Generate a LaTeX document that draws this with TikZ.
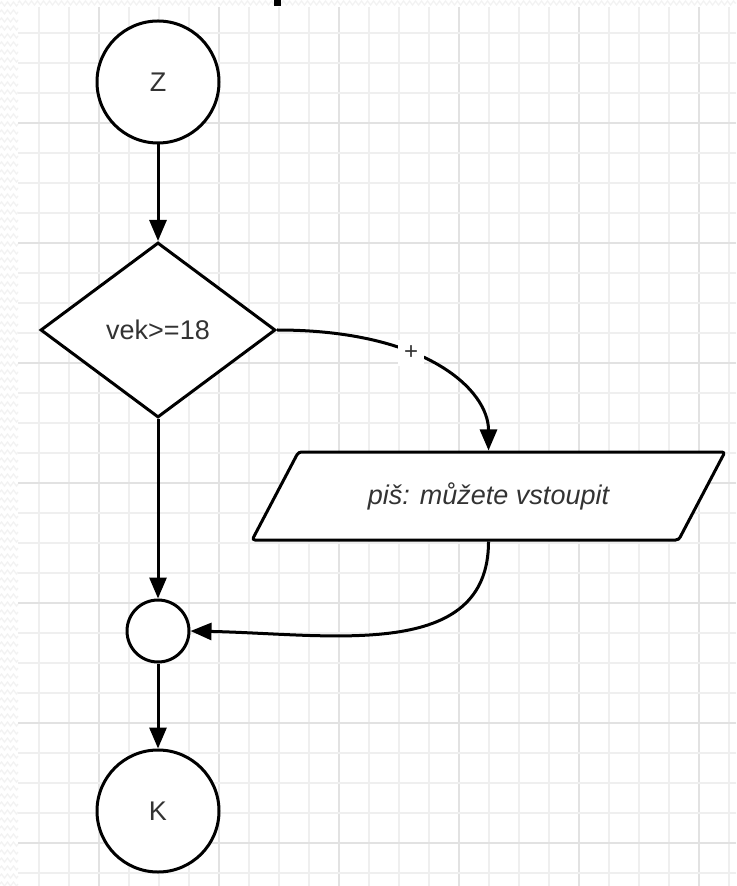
\documentclass[tikz,border=0pt]{standalone}
\usepackage{fontspec}
\setmainfont{Liberation Sans}
\usetikzlibrary{shapes.geometric,arrows.meta,decorations.pathmorphing}

\definecolor{gridminor}{HTML}{EFEFEF}
\definecolor{gridmajor}{HTML}{E2E2E2}
\definecolor{zigcol}{HTML}{F2F2F2}
\definecolor{inktext}{HTML}{333333}

\begin{document}
\begin{tikzpicture}[x=0.5pt,y=-0.5pt,
	flow/.style={line width=1.5pt,-{Triangle[length=10.5pt,width=8.5pt]}},
	termnode/.style={circle,draw,line width=1.5pt,fill=white,minimum size=61pt,
	                 inner sep=0pt,text=inktext,font=\fontsize{13.5}{15}\selectfont},
	joinnode/.style={circle,draw,line width=1.5pt,fill=white,minimum size=31pt,inner sep=0pt},
	condnode/.style={diamond,draw,line width=1.5pt,fill=white,minimum width=117.5pt,
	                 minimum height=87.5pt,inner sep=0pt,text=inktext,
	                 font=\fontsize{13.5}{15}\selectfont},
	ionode/.style={trapezium,trapezium left angle=43,trapezium right angle=137,
	               trapezium stretches=true,draw,line width=1.5pt,fill=white,
	               rounded corners=1.5pt,minimum width=236.5pt,minimum height=44pt,
	               inner sep=0pt,text=inktext,font=\fontsize{13.5}{15}\selectfont\itshape},
	zig/.style={zigcol,line width=0.6pt,decorate,
	            decoration={zigzag,segment length=3pt,amplitude=1pt}}]
	
	\def\gleft{18}
	\def\gtop{7}
	\def\gstep{30}
	
	\useasboundingbox (0,0) rectangle (736,886);
	\fill[white] (0,0) rectangle (736,886);
	
	% The zigzag strips round the sheet
	\foreach \y in {4,12,...,884}{
		\draw[zig] (0,\y) -- (\gleft,\y);
	}
	\draw[zig] (\gleft,3) -- (736,3);
	
	% The grid
	\foreach \k in {0,...,23}{
		\pgfmathtruncatemacro{\major}{mod(\k,4)==2}
		\ifnum\major=1
			\draw[gridmajor,line width=1pt] (39+\k*\gstep,\gtop) -- (39+\k*\gstep,886);
		\else
			\draw[gridminor,line width=1pt] (39+\k*\gstep,\gtop) -- (39+\k*\gstep,886);
		\fi
	}
	\foreach \k in {0,...,28}{
		\pgfmathtruncatemacro{\major}{mod(\k,4)==3}
		\ifnum\major=1
			\draw[gridmajor,line width=1pt] (\gleft,33+\k*\gstep) -- (736,33+\k*\gstep);
		\else
			\draw[gridminor,line width=1pt] (\gleft,33+\k*\gstep) -- (736,33+\k*\gstep);
		\fi
	}
	
	% Cut-off title
	\fill[black] (274,0) rectangle (281,6);
	
	% The blocks
	\node[termnode] (z) at (158,82) {Z};
	\node[condnode] (cond) at (158,330) {vek>=18};
	\node[ionode] (pis) at (488.5,496) {piš: můžete vstoupit};
	\node[joinnode] (join) at (158,631) {};
	\node[termnode] (k) at (158,811) {K};
	
	% The links
	\draw[flow] (z) -- (cond);
	\draw[flow] (cond.east) .. controls +(150,0) and +(0,-60) .. (pis.north)
	      node[pos=0.38,fill=white,inner sep=3pt,text=inktext,
	           font=\fontsize{12}{14}\selectfont] (plus) {+};
	\draw[flow] (cond.south) -- (join);
	\draw[flow] (pis.south) .. controls +(0,120) and +(141,3) .. (join.east);
	\draw[flow] (join) -- (k);
	
\end{tikzpicture}
\end{document}
